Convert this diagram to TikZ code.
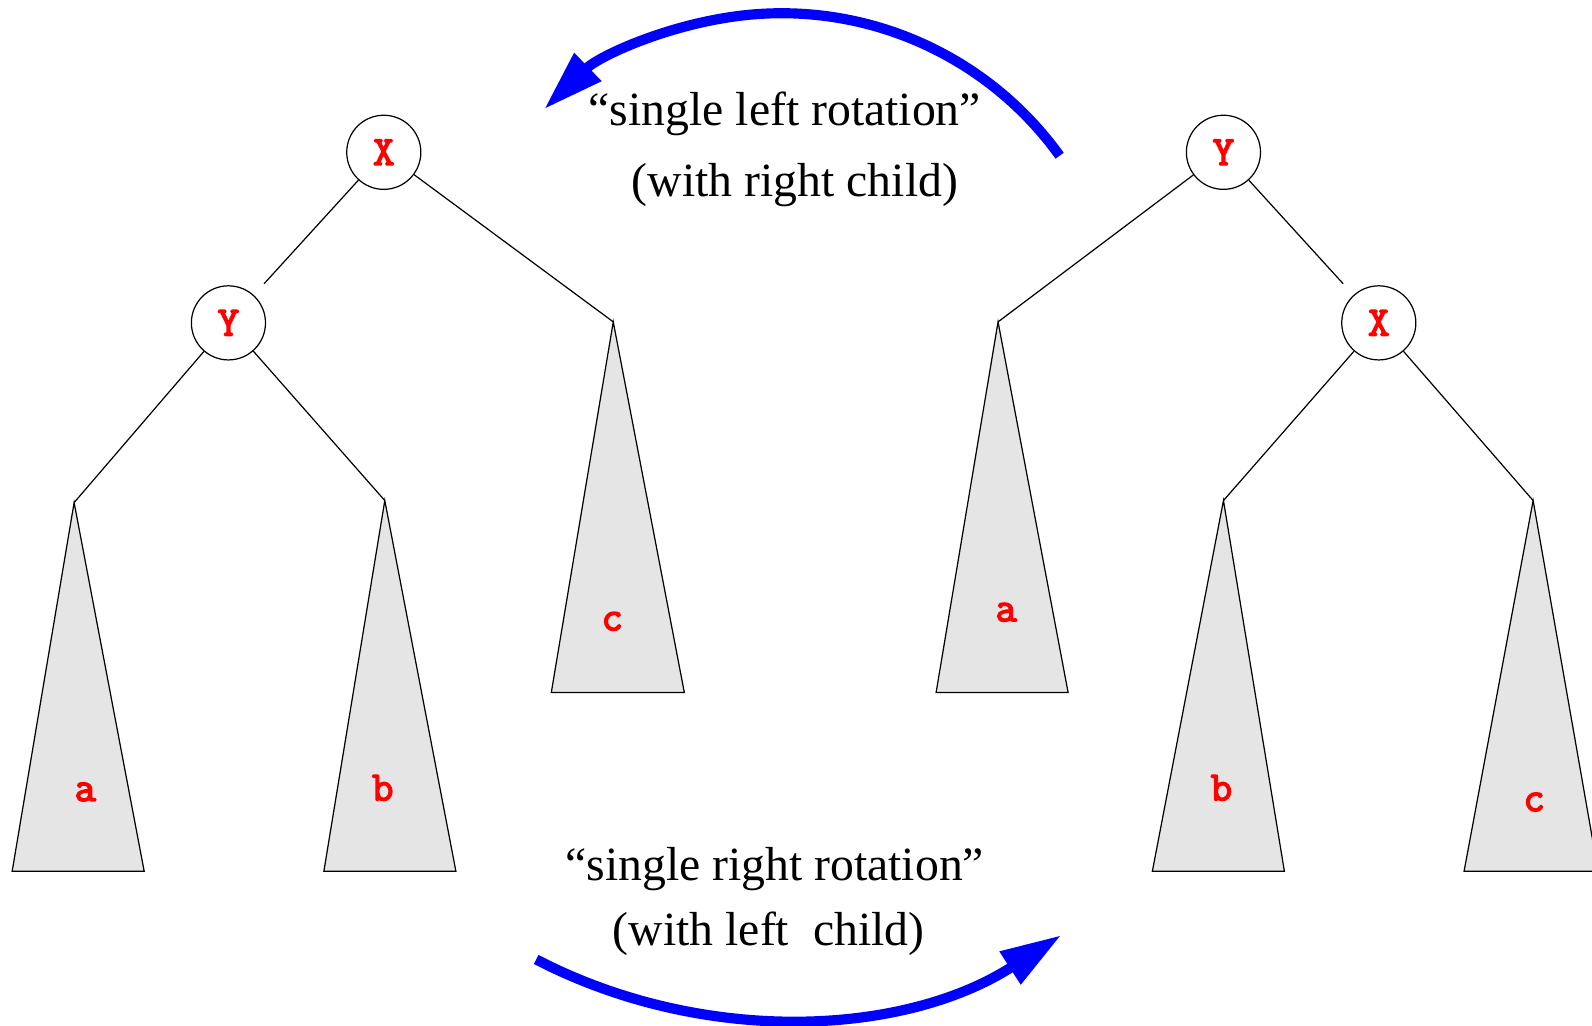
\documentclass[tikz,border=0pt]{standalone}
\usepackage{fontspec}
\setmainfont{Liberation Serif}
\newfontfamily\monob[FakeBold=3.5]{Latin Modern Mono}
\usetikzlibrary{arrows.meta}
\begin{document}
\begin{tikzpicture}[x=1pt,y=-1pt,
  nd/.style={circle,draw,line width=1.2pt,minimum size=73pt,inner sep=0pt,
    font=\monob\fontsize{41}{41}\selectfont,text=red},
  lbl/.style={font=\monob\fontsize{41}{41}\selectfont,text=red,inner sep=0pt},
  tri/.style={draw,fill=black!10,line width=1.2pt,line join=miter},
  edge/.style={line width=1.2pt},
  gap/.style={edge,shorten >=15pt},
  arr/.style={draw=blue,line width=10pt,-{Triangle[length=60pt,width=36pt]}},
  captxt/.style={font=\fontsize{47}{56}\selectfont,anchor=base,inner sep=0pt}]
\clip (0,0) rectangle (1568,1010);
\fill[white] (0,0) rectangle (1568,1010);

% ---- left tree ----
\coordinate (LtaA) at (73,495);
\coordinate (LtbA) at (379,493);
\coordinate (LtcA) at (604,317);
\draw[tri] (LtaA) -- (12,858) -- (142,858) -- cycle;
\draw[tri] (LtbA) -- (319,858) -- (449,858) -- cycle;
\draw[tri] (LtcA) -- (543,682) -- (674,682) -- cycle;
\node[lbl] (La) at (84,780) {a};
\node[lbl] (Lb) at (377,776) {b};
\node[lbl] (Lc) at (603,612) {c};
\node[nd] (LX) at (378,150) {X};
\node[nd] (LY) at (225,318) {Y};
\draw[gap] (LX) -- (LY);
\draw[edge] (LX) -- (LtcA);
\draw[edge] (LY) -- (LtaA);
\draw[edge] (LY) -- (LtbA);

% ---- right tree ----
\coordinate (RtaA) at (983,317);
\coordinate (RtbA) at (1205,493);
\coordinate (RtcA) at (1510,493);
\draw[tri] (RtaA) -- (922,682) -- (1052,682) -- cycle;
\draw[tri] (RtbA) -- (1135,858) -- (1265,858) -- cycle;
\draw[tri] (RtcA) -- (1442,858) -- (1574,858) -- cycle;
\node[lbl] (Ra) at (991,603) {a};
\node[lbl] (Rb) at (1203,776) {b};
\node[lbl] (Rc) at (1511,790) {c};
\node[nd] (RY) at (1205,150) {Y};
\node[nd] (RX) at (1358,318) {X};
\draw[gap] (RY) -- (RX);
\draw[edge] (RY) -- (RtaA);
\draw[edge] (RX) -- (RtbA);
\draw[edge] (RX) -- (RtcA);

% ---- captions ----
\node[captxt] (t1) at (773,124) {``single left rotation''};
\node[captxt] (t2) at (783,194) {(with right child)};
\node[captxt] (b1) at (763,867) {``single right rotation''};
\node[captxt] (b2) at (757,931) {(with left\ \ child)};

% ---- arrows ----
\coordinate (topc) at (770,350);
\coordinate (botc) at (766,486);
\draw[arr] ([shift={(-35.7:337)}]topc) arc[start angle=-35.7,end angle=-134,radius=337];
\draw[arr] ([shift={(117.4:517)}]botc) arc[start angle=117.4,end angle=57.3,radius=517];
\end{tikzpicture}
\end{document}
